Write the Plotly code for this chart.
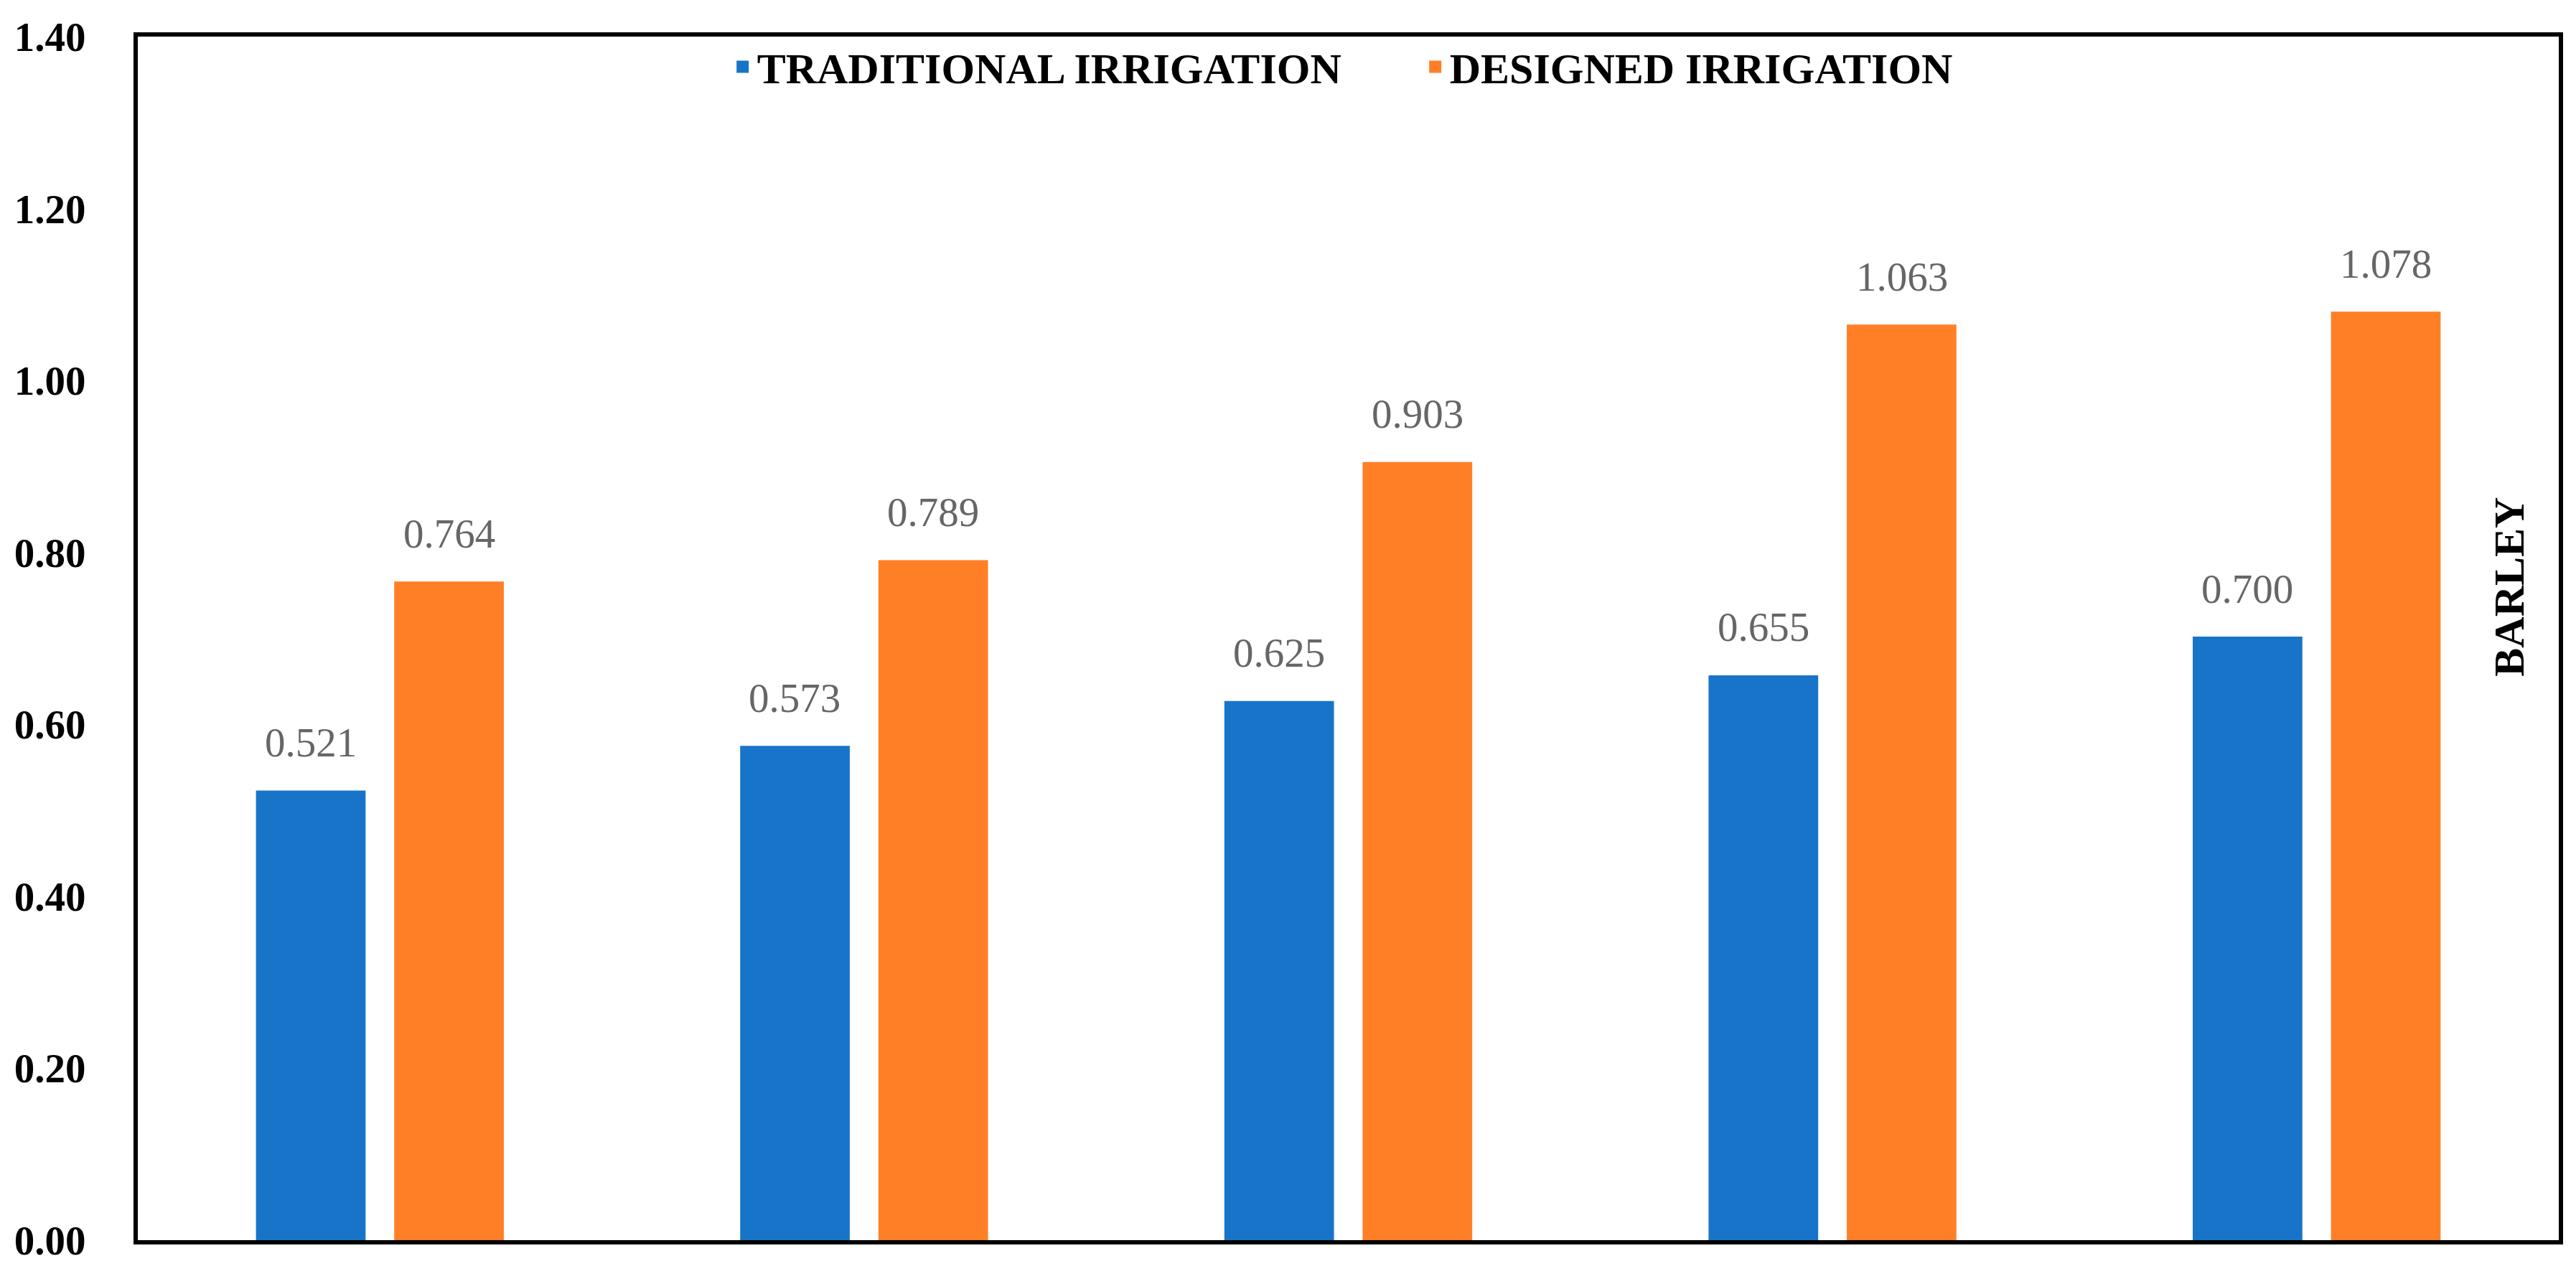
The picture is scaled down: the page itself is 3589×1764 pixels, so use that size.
import plotly.graph_objects as go

categories = ["T1", "T2", "T3", "T4", "T5"]
traditional = [0.521, 0.573, 0.625, 0.655, 0.700]
designed = [0.764, 0.789, 0.903, 1.063, 1.078]
series_names = ["TRADITIONAL IRRIGATION", "DESIGNED IRRIGATION"]
y_ticks = [0.0, 0.2, 0.4, 0.6, 0.8, 1.0, 1.2, 1.4]
crop_label = "BARLEY"

BLUE = "#1874C9"
ORANGE = "#FF7F27"
SERIF = "Liberation Serif"

fig = go.Figure()
fig.add_trace(go.Bar(x=categories, y=traditional, name=series_names[0],
                     marker=dict(color=BLUE, line=dict(width=5, color=BLUE))))
fig.add_trace(go.Bar(x=categories, y=designed, name=series_names[1],
                     marker=dict(color=ORANGE, line=dict(width=5, color=ORANGE))))

# value labels
for vals, shift in ((traditional, -96.5), (designed, 96.5)):
    for c, v in zip(categories, vals):
        fig.add_annotation(x=c, y=v, xref="x", yref="y", text=f"{v:.3f}",
                           showarrow=False, xshift=shift, yshift=36,
                           yanchor="bottom",
                           font=dict(family=SERIF, size=57, color="#666666"))

fig.add_annotation(x=0.990, y=0.543, xref="paper", yref="paper",
                   text=f"<b>{crop_label}</b>", textangle=-90, showarrow=False,
                   font=dict(family=SERIF, size=60, color="black"))

fig.update_layout(
    width=3589, height=1764,
    margin=dict(l=178, r=32, t=38, b=42),
    paper_bgcolor="white", plot_bgcolor="white",
    barmode="group", bargap=0.429, bargroupgap=0.233,
    legend=dict(orientation="h", x=0.530, xanchor="center", y=0.975,
                yanchor="middle", bgcolor="rgba(0,0,0,0)",
                font=dict(family=SERIF, size=60, color="black", weight="bold"),
                itemwidth=30, entrywidth=920, entrywidthmode="pixels"),
    showlegend=True,
)
fig.update_xaxes(type="category", showticklabels=False, ticks="", showgrid=False,
                 showline=True, linecolor="black", linewidth=6, mirror=True,
                 zeroline=False)
fig.update_yaxes(range=[0, 1.4], tickvals=y_ticks,
                 ticktext=[f"{t:.2f}" for t in y_ticks],
                 showgrid=False, zeroline=False, ticks="",
                 ticklabelstandoff=55,
                 tickfont=dict(family=SERIF, size=57, color="black", weight="bold"),
                 showline=True, linecolor="black", linewidth=6, mirror=True)

fig.write_html("out.html")
